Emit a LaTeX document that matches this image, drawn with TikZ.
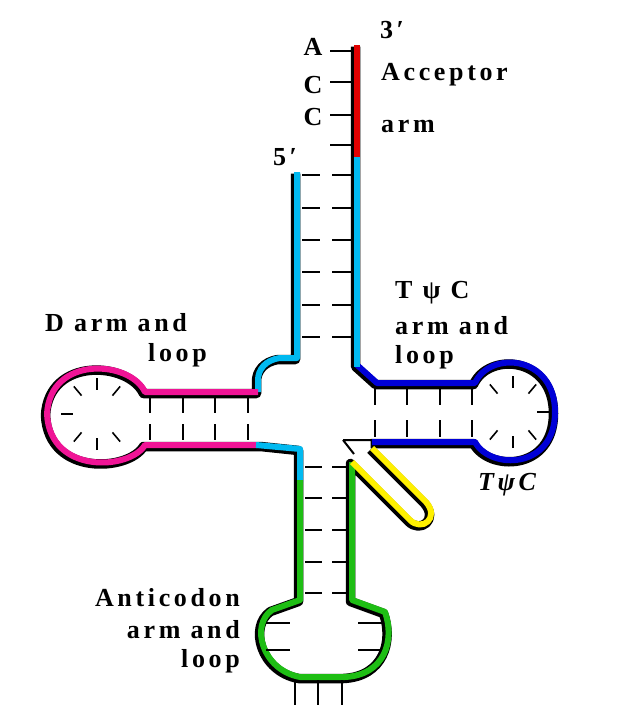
\documentclass[tikz,border=0pt]{standalone}
\usepackage{fontspec}
\setmainfont{Liberation Serif}[LetterSpace=14]
\definecolor{tcyan}{RGB}{0,185,240}
\definecolor{tred}{RGB}{225,0,0}
\definecolor{tpink}{RGB}{240,20,150}
\definecolor{tblue}{RGB}{0,0,215}
\definecolor{tgreen}{RGB}{30,190,20}
\definecolor{tyellow}{RGB}{255,240,0}
\begin{document}
\begin{tikzpicture}[x=1pt,y=-1pt,
  lbl/.style={font=\fontsize{26}{28}\selectfont\bfseries, inner sep=0pt},
  tick/.style={line width=1.6pt},
  shadow/.style={line width=9.5pt, black, line join=round, line cap=butt},
  strand/.style={line width=6pt, line join=round, line cap=butt}]
\useasboundingbox (0,0) rectangle (634,715);
\fill[white] (0,0) rectangle (634,715);
% outline of whole strand
\begin{scope}[shift={(-1.5,1.5)}]
\draw[shadow] (297,172)--(297,358)--(280,358) .. controls (265,360) and (258,370) .. (258,380)--(258,392)--(145,392)
  .. controls (130,360) and (50,355) .. (47,414) .. controls (50,475) and (130,470) .. (145,445)--(262,445)--(300,449)--(300,600)
  --(272,610) .. controls (250,625) and (262,670) .. (300,677)--(345,677) .. controls (385,675) and (395,640) .. (385,612)--(352,600)--(352,462)
  --(410,520) .. controls (422,532) and (440,518) .. (426,502)--(372,448);
\draw[shadow] (372,442)--(475,442) .. controls (490,470) and (555,470) .. (555,412) .. controls (555,355) and (490,350) .. (475,383)--(377,383)--(357,365)--(357,45);
\end{scope}
\draw[line width=2pt] (343,440)--(374,440) (343,440)--(354,454);
% colored strands
\draw[strand,tcyan] (297,172)--(297,358)--(280,358) .. controls (265,360) and (258,370) .. (258,380)--(258,392);
\draw[strand,tpink] (258,392)--(145,392)
  .. controls (130,360) and (50,355) .. (47,414) .. controls (50,475) and (130,470) .. (145,445)--(258,445);
\draw[strand,tcyan] (256,445)--(300,449)--(300,482);
\draw[strand,tgreen] (300,480)--(300,600)
  --(272,610) .. controls (250,625) and (262,670) .. (300,677)--(345,677) .. controls (385,675) and (395,640) .. (385,612)--(352,600)--(352,462);
\draw[strand,tyellow] (352,462)--(410,520) .. controls (422,532) and (440,518) .. (426,502)--(372,448);
\draw[strand,tblue] (372,442)--(475,442) .. controls (490,470) and (555,470) .. (555,412) .. controls (555,355) and (490,350) .. (475,383)--(377,383)--(357,365);
\draw[strand,tcyan] (357,367)--(357,155);
\draw[strand,tred] (357,157)--(357,45);
% acceptor ticks
\foreach \y in {51,82,115,145} \draw[tick] (330,\y)--(352,\y);
\foreach \y in {175,208,240,272,305,337} \draw[tick] (302,\y)--(320,\y) (332,\y)--(352,\y);
% anticodon stem ticks
\foreach \y in {467,498,530,562,593} \draw[tick] (305,\y)--(322,\y) (332,\y)--(347,\y);
% D stem ticks
\foreach \x in {150,183,215,248} \draw[tick] (\x,397)--(\x,413) (\x,424)--(\x,440);
% TpsiC stem ticks
\foreach \x in {375,407,440,472} \draw[tick] (\x,388)--(\x,405) (\x,420)--(\x,437);
% D loop ticks
\foreach \a in {50,90,130,180,230,270,310} \draw[tick] ({97+36*cos(\a)},{414-36*sin(\a)})--({97+24*cos(\a)},{414-24*sin(\a)});
% TpsiC loop ticks
\foreach \a in {0,50,90,130,230,270,310} \draw[tick] ({513+36*cos(\a)},{412-36*sin(\a)})--({513+24*cos(\a)},{412-24*sin(\a)});
% anticodon loop ticks
\foreach \y in {623,650} \draw[tick] (266,\y)--(290,\y) (358,\y)--(382,\y);
\foreach \x in {295,318,342} \draw[tick] (\x,680)--(\x,705);
% labels
\node[lbl] (a) at (313,47) {A};
\node[lbl] (c1) at (313,85) {C};
\node[lbl] (c2) at (313,117) {C};
\node[lbl] (p3) at (392,30) {3′};
\node[lbl] (p5) at (285,157) {5′};
\node[lbl,anchor=west] (acc) at (381,75) {Acceptor};
\node[lbl,anchor=west] (arm) at (381,126) {arm};
\node[lbl,anchor=west] (d1) at (45,323) {D arm and};
\node[lbl,anchor=west] (d2) at (148,355) {loop};
\node[lbl,anchor=west] (t1) at (395,293) {T ψ C};
\node[lbl,anchor=west] (t2) at (395,326) {arm and};
\node[lbl,anchor=west] (t3) at (395,357) {loop};
\node[lbl,anchor=east] (an1) at (240,598) {Anticodon};
\node[lbl,anchor=east] (an2) at (240,630) {arm and};
\node[lbl,anchor=east] (an3) at (240,661) {loop};
\node[lbl,anchor=west] (tl) at (478,485) {\itshape TψC};
\end{tikzpicture}
\end{document}
